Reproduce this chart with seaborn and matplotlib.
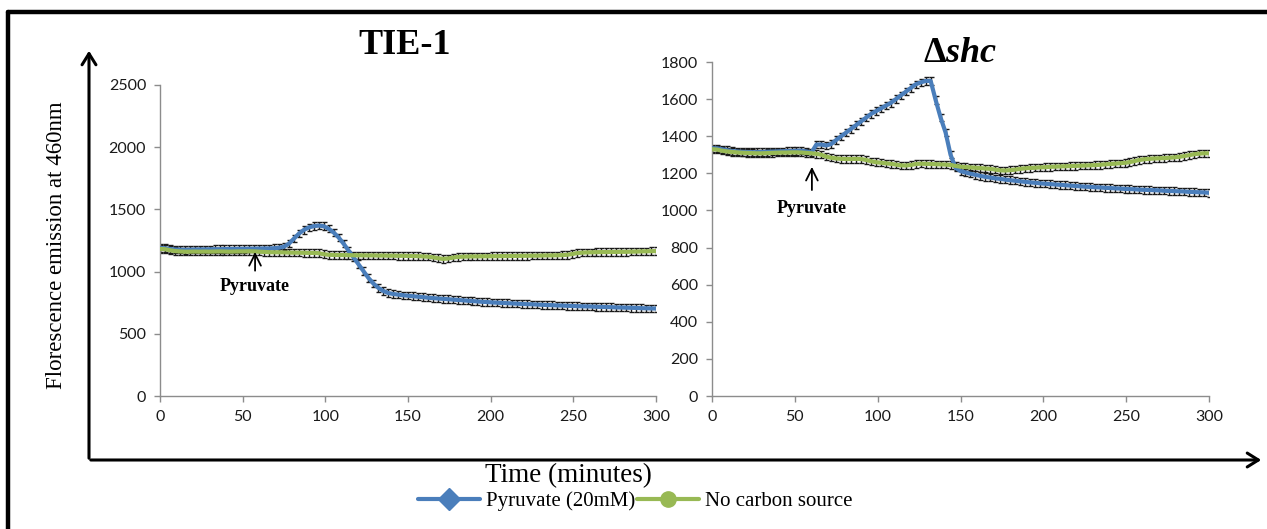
import numpy as np
import pandas as pd
import matplotlib
matplotlib.use("Agg")
import matplotlib.pyplot as plt
from matplotlib.lines import Line2D
from matplotlib.patches import FancyArrowPatch
import seaborn as sns

# Sampling times (minutes), one reading every 3 minutes
time_min = list(range(0, 301, 3))

# TIE-1 strain
tie1_pyruvate = [
    1190, 1188, 1182, 1178, 1176, 1175, 1176, 1177, 1178, 1178,
    1179, 1180, 1180, 1181, 1182, 1182, 1183, 1183, 1184, 1184,
    1185, 1186, 1186, 1188, 1192, 1200, 1225, 1265, 1305, 1335,
    1355, 1365, 1370, 1365, 1345, 1315, 1275, 1225, 1170, 1115,
    1060, 1005, 950, 905, 870, 845, 828, 820, 815, 810,
    806, 802, 798, 795, 790, 787, 784, 781, 778, 775,
    772, 769, 766, 763, 760, 757, 755, 752, 750, 748,
    746, 744, 742, 740, 738, 737, 735, 733, 731, 730,
    728, 727, 725, 724, 722, 721, 720, 719, 717, 716,
    715, 714, 712, 711, 710, 709, 708, 706, 705, 704,
    703,
]
tie1_no_carbon = [
    1182, 1180, 1172, 1165, 1162, 1160, 1160, 1161, 1160, 1161,
    1160, 1161, 1162, 1161, 1160, 1161, 1162, 1162, 1163, 1162,
    1160, 1158, 1156, 1155, 1155, 1154, 1153, 1152, 1152, 1151,
    1150, 1150, 1148, 1140, 1135, 1134, 1133, 1133, 1132, 1131,
    1131, 1130, 1130, 1130, 1129, 1129, 1128, 1128, 1127, 1127,
    1126, 1125, 1124, 1122, 1120, 1115, 1108, 1102, 1105, 1112,
    1118, 1120, 1121, 1122, 1122, 1123, 1123, 1124, 1124, 1125,
    1125, 1126, 1126, 1127, 1127, 1128, 1128, 1129, 1130, 1130,
    1131, 1132, 1135, 1140, 1148, 1152, 1154, 1155, 1156, 1157,
    1157, 1158, 1158, 1159, 1159, 1160, 1161, 1162, 1163, 1164,
    1165,
]

# Delta-shc strain
shc_pyruvate = [
    1335, 1335, 1330, 1325, 1320, 1318, 1316, 1315, 1314, 1314,
    1315, 1316, 1317, 1318, 1319, 1320, 1320, 1321, 1322, 1318,
    1312, 1355, 1355, 1350, 1358, 1380, 1400, 1420, 1440, 1460,
    1480, 1500, 1520, 1535, 1550, 1565, 1580, 1600, 1620, 1640,
    1660, 1680, 1690, 1698, 1698, 1595, 1500, 1420, 1300, 1230,
    1212, 1205, 1198, 1192, 1186, 1181, 1177, 1173, 1170, 1166,
    1163, 1160, 1157, 1154, 1151, 1149, 1146, 1144, 1142, 1140,
    1138, 1136, 1134, 1132, 1130, 1128, 1127, 1125, 1124, 1122,
    1121, 1119, 1118, 1116, 1115, 1114, 1112, 1111, 1110, 1109,
    1108, 1106, 1105, 1104, 1103, 1102, 1100, 1099, 1098, 1097,
    1095,
]
shc_no_carbon = [
    1330, 1328, 1322, 1318, 1315, 1313, 1311, 1310, 1309, 1308,
    1308, 1309, 1310, 1311, 1312, 1312, 1313, 1313, 1312, 1310,
    1308, 1305, 1300, 1290, 1284, 1280, 1278, 1277, 1277, 1278,
    1277, 1272, 1265, 1260, 1257, 1254, 1251, 1247, 1243, 1242,
    1245, 1250, 1252, 1251, 1250, 1249, 1248, 1247, 1245, 1240,
    1236, 1234, 1232, 1230, 1228, 1226, 1224, 1220, 1216, 1215,
    1217, 1220, 1224, 1227, 1229, 1230, 1232, 1233, 1235, 1236,
    1237, 1238, 1239, 1240, 1241, 1242, 1243, 1244, 1246, 1248,
    1250, 1252, 1254, 1256, 1260, 1266, 1272, 1276, 1278, 1280,
    1281, 1282, 1284, 1286, 1289, 1293, 1298, 1303, 1306, 1308,
    1308,
]

# Standard deviation shown on each reading
tie1_sd = 30
shc_sd = 20

series_names = ["Pyruvate (20mM)", "No carbon source"]
series_colors = ["#4A7EBB", "#98B954"]
panel_titles = ["TIE-1", r"$\mathbf{\Delta}\boldsymbol{shc}$"]
tie1_yticks = [0, 500, 1000, 1500, 2000, 2500]
shc_yticks = [0, 200, 400, 600, 800, 1000, 1200, 1400, 1600, 1800]
xticks = [0, 50, 100, 150, 200, 250, 300]

sns.set_theme(style="white")
plt.rcParams["font.family"] = ["Liberation Serif", "DejaVu Serif"]
plt.rcParams["text.color"] = "black"
plt.rcParams["mathtext.fontset"] = "custom"
plt.rcParams["mathtext.rm"] = "Liberation Serif"
plt.rcParams["mathtext.it"] = "Liberation Serif:italic"
plt.rcParams["mathtext.bf"] = "Liberation Serif:bold"
plt.rcParams["mathtext.bfit"] = "Liberation Serif:bold:italic"

W, H = 1267, 529
fig = plt.figure(figsize=(W / 100, H / 100), dpi=100)
fig.patch.set_facecolor("white")


def box(px_left, px_top, px_right, px_bottom):
    return [px_left / W, 1 - px_bottom / H, (px_right - px_left) / W, (px_bottom - px_top) / H]


ax_l = fig.add_axes(box(160, 85, 656, 396))
ax_r = fig.add_axes(box(712, 62, 1209, 396))

panels = [
    (ax_l, tie1_pyruvate, tie1_no_carbon, tie1_sd, tie1_yticks, 2500),
    (ax_r, shc_pyruvate, shc_no_carbon, shc_sd, shc_yticks, 1800),
]

tick_font = {"family": "Lato", "size": 11.5, "color": "#1a1a1a"}

for ax, ya, yb, sd, yt, ymax in panels:
    df = pd.DataFrame({
        "time": time_min * 2,
        "value": ya + yb,
        "series": [series_names[0]] * len(ya) + [series_names[1]] * len(yb),
    })
    for vals in (ya, yb):
        ax.errorbar(time_min, vals, yerr=sd, fmt="none", ecolor="#1a1a1a",
                    elinewidth=1.0, capsize=1.8, capthick=1.0, zorder=2)
    sns.lineplot(data=df, x="time", y="value", hue="series", hue_order=series_names,
                 palette=series_colors, linewidth=3.0, legend=False, ax=ax, zorder=3)
    ax.set_xlim(0, 300)
    ax.set_ylim(0, ymax)
    ax.set_xticks(xticks)
    ax.set_yticks(yt)
    ax.set_xticklabels([str(v) for v in xticks], fontdict=tick_font)
    ax.set_yticklabels([str(v) for v in yt], fontdict=tick_font)
    ax.set_xlabel("")
    ax.set_ylabel("")
    for side in ("top", "right"):
        ax.spines[side].set_visible(False)
    for side in ("left", "bottom"):
        ax.spines[side].set_color("#8c8c8c")
        ax.spines[side].set_linewidth(1.0)
    ax.tick_params(axis="both", direction="out", length=4, width=1.0, color="#8c8c8c",
                   pad=6, bottom=True, left=True)
    ax.patch.set_alpha(0)

# Panel headings
fig.text(405 / W, 1 - 45 / H, panel_titles[0], ha="center", va="center",
         fontsize=26, fontweight="bold", color="black")
fig.text(960 / W, 1 - 54 / H, panel_titles[1], ha="center", va="center",
         fontsize=26, color="black")

# Pyruvate addition markers
arrow_style = dict(arrowstyle="->,head_length=0.6,head_width=0.3", color="black",
                   lw=1.3, mutation_scale=14)
ax_l.annotate("", xy=(57.5, 1180), xytext=(57.5, 985), arrowprops=arrow_style)
ax_l.text(57.5, 880, "Pyruvate", ha="center", va="center", fontsize=13,
          fontweight="bold", color="black")
ax_r.annotate("", xy=(60.3, 1250), xytext=(60.3, 1095), arrowprops=arrow_style)
ax_r.text(60.3, 1012, "Pyruvate", ha="center", va="center", fontsize=13,
          fontweight="bold", color="black")

# Shared axis arrows and labels
fig.add_artist(FancyArrowPatch(
    (89 / W, 1 - 461 / H), (89 / W, 1 - 48 / H), transform=fig.transFigure,
    arrowstyle="->,head_length=8,head_width=5", color="black", lw=2.2))
fig.add_artist(FancyArrowPatch(
    (88 / W, 1 - 460 / H), (1264 / W, 1 - 460 / H), transform=fig.transFigure,
    arrowstyle="->,head_length=8,head_width=5", color="black", lw=2.2))
fig.text(57 / W, 1 - 245 / H, "Florescence emission at 460nm", rotation=90,
         ha="center", va="center", fontsize=16.5, color="black")
fig.text(568 / W, 1 - 476 / H, "Time (minutes)", ha="center", va="center",
         fontsize=19.5, color="black")

# Outer frame
fig.add_artist(Line2D([8 / W, 1.0], [1 - 12 / H, 1 - 12 / H], transform=fig.transFigure,
                      color="black", lw=3.2))
fig.add_artist(Line2D([8 / W, 8 / W], [1 - 12 / H, 0.0], transform=fig.transFigure,
                      color="black", lw=3.2))

# Legend
handles = [
    Line2D([], [], color=series_colors[0], lw=3, marker="D", markersize=11),
    Line2D([], [], color=series_colors[1], lw=3, marker="o", markersize=11),
]
fig.legend(handles, series_names, loc="center", bbox_to_anchor=(635 / W, 1 - 501 / H),
           ncol=2, frameon=False, fontsize=15, handlelength=3.0, handletextpad=0.25,
           columnspacing=0.1, borderpad=0.1, labelcolor="black")

fig.savefig("out.png", dpi=100, facecolor="white")
